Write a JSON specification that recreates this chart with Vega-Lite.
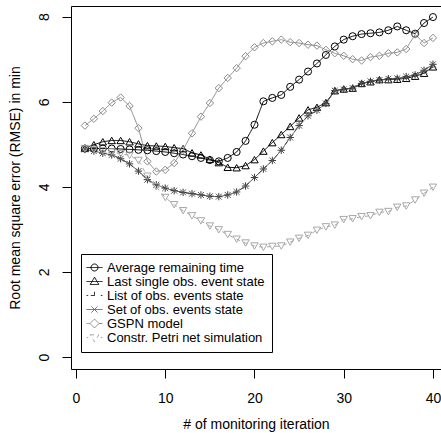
{
  "$schema": "https://vega.github.io/schema/vega-lite/v6.json",
  "width": 370,
  "height": 363,
  "autosize": {"type": "none"},
  "padding": {"left": 71, "top": 6, "right": 0, "bottom": 64},
  "background": "white",
  "config": {
    "view": {"stroke": null},
    "font": "Liberation Sans",
    "axis": {
      "grid": false,
      "domainColor": "black",
      "tickColor": "black",
      "labelColor": "black",
      "titleColor": "black",
      "labelFont": "Liberation Sans",
      "titleFont": "Liberation Sans",
      "labelFontSize": 14,
      "titleFontSize": 14,
      "titleFontWeight": "normal",
      "tickSize": 9,
      "domainWidth": 1,
      "tickWidth": 1
    },
    "legend": {
      "title": null,
      "orient": "none",
      "legendX": 10,
      "legendY": 248,
      "padding": 7,
      "symbolSize": 144,
      "symbolStrokeWidth": 1,
      "symbolOpacity": 1,
      "labelOffset": 6,
      "rowPadding": -0.4,
      "labelFontSize": 13,
      "labelLimit": 0,
      "labelFont": "Liberation Sans",
      "labelColor": "black",
      "strokeColor": "black",
      "fillColor": "white"
    }
  },
  "data": {
    "values": [
      {"iteration": 1, "method": "Average remaining time", "rmse": 4.9},
      {"iteration": 2, "method": "Average remaining time", "rmse": 4.9},
      {"iteration": 3, "method": "Average remaining time", "rmse": 4.9},
      {"iteration": 4, "method": "Average remaining time", "rmse": 4.9},
      {"iteration": 5, "method": "Average remaining time", "rmse": 4.89},
      {"iteration": 6, "method": "Average remaining time", "rmse": 4.88},
      {"iteration": 7, "method": "Average remaining time", "rmse": 4.87},
      {"iteration": 8, "method": "Average remaining time", "rmse": 4.86},
      {"iteration": 9, "method": "Average remaining time", "rmse": 4.84},
      {"iteration": 10, "method": "Average remaining time", "rmse": 4.82},
      {"iteration": 11, "method": "Average remaining time", "rmse": 4.79},
      {"iteration": 12, "method": "Average remaining time", "rmse": 4.76},
      {"iteration": 13, "method": "Average remaining time", "rmse": 4.72},
      {"iteration": 14, "method": "Average remaining time", "rmse": 4.68},
      {"iteration": 15, "method": "Average remaining time", "rmse": 4.63},
      {"iteration": 16, "method": "Average remaining time", "rmse": 4.6},
      {"iteration": 17, "method": "Average remaining time", "rmse": 4.68},
      {"iteration": 18, "method": "Average remaining time", "rmse": 4.82},
      {"iteration": 19, "method": "Average remaining time", "rmse": 5.08},
      {"iteration": 20, "method": "Average remaining time", "rmse": 5.46},
      {"iteration": 21, "method": "Average remaining time", "rmse": 6.01},
      {"iteration": 22, "method": "Average remaining time", "rmse": 6.09},
      {"iteration": 23, "method": "Average remaining time", "rmse": 6.16},
      {"iteration": 24, "method": "Average remaining time", "rmse": 6.35},
      {"iteration": 25, "method": "Average remaining time", "rmse": 6.52},
      {"iteration": 26, "method": "Average remaining time", "rmse": 6.71},
      {"iteration": 27, "method": "Average remaining time", "rmse": 6.9},
      {"iteration": 28, "method": "Average remaining time", "rmse": 7.1},
      {"iteration": 29, "method": "Average remaining time", "rmse": 7.3},
      {"iteration": 30, "method": "Average remaining time", "rmse": 7.46},
      {"iteration": 31, "method": "Average remaining time", "rmse": 7.54},
      {"iteration": 32, "method": "Average remaining time", "rmse": 7.59},
      {"iteration": 33, "method": "Average remaining time", "rmse": 7.61},
      {"iteration": 34, "method": "Average remaining time", "rmse": 7.63},
      {"iteration": 35, "method": "Average remaining time", "rmse": 7.68},
      {"iteration": 36, "method": "Average remaining time", "rmse": 7.77},
      {"iteration": 37, "method": "Average remaining time", "rmse": 7.68},
      {"iteration": 38, "method": "Average remaining time", "rmse": 7.6},
      {"iteration": 39, "method": "Average remaining time", "rmse": 7.85},
      {"iteration": 40, "method": "Average remaining time", "rmse": 7.99},
      {"iteration": 1, "method": "Last single obs. event state", "rmse": 4.91},
      {"iteration": 2, "method": "Last single obs. event state", "rmse": 4.99},
      {"iteration": 3, "method": "Last single obs. event state", "rmse": 5.06},
      {"iteration": 4, "method": "Last single obs. event state", "rmse": 5.09},
      {"iteration": 5, "method": "Last single obs. event state", "rmse": 5.09},
      {"iteration": 6, "method": "Last single obs. event state", "rmse": 5.06},
      {"iteration": 7, "method": "Last single obs. event state", "rmse": 5.01},
      {"iteration": 8, "method": "Last single obs. event state", "rmse": 4.97},
      {"iteration": 9, "method": "Last single obs. event state", "rmse": 4.96},
      {"iteration": 10, "method": "Last single obs. event state", "rmse": 4.95},
      {"iteration": 11, "method": "Last single obs. event state", "rmse": 4.92},
      {"iteration": 12, "method": "Last single obs. event state", "rmse": 4.9},
      {"iteration": 13, "method": "Last single obs. event state", "rmse": 4.8},
      {"iteration": 14, "method": "Last single obs. event state", "rmse": 4.75},
      {"iteration": 15, "method": "Last single obs. event state", "rmse": 4.65},
      {"iteration": 16, "method": "Last single obs. event state", "rmse": 4.57},
      {"iteration": 17, "method": "Last single obs. event state", "rmse": 4.46},
      {"iteration": 18, "method": "Last single obs. event state", "rmse": 4.45},
      {"iteration": 19, "method": "Last single obs. event state", "rmse": 4.5},
      {"iteration": 20, "method": "Last single obs. event state", "rmse": 4.64},
      {"iteration": 21, "method": "Last single obs. event state", "rmse": 4.84},
      {"iteration": 22, "method": "Last single obs. event state", "rmse": 5.04},
      {"iteration": 23, "method": "Last single obs. event state", "rmse": 5.23},
      {"iteration": 24, "method": "Last single obs. event state", "rmse": 5.42},
      {"iteration": 25, "method": "Last single obs. event state", "rmse": 5.62},
      {"iteration": 26, "method": "Last single obs. event state", "rmse": 5.81},
      {"iteration": 27, "method": "Last single obs. event state", "rmse": 5.87},
      {"iteration": 28, "method": "Last single obs. event state", "rmse": 5.98},
      {"iteration": 29, "method": "Last single obs. event state", "rmse": 6.26},
      {"iteration": 30, "method": "Last single obs. event state", "rmse": 6.3},
      {"iteration": 31, "method": "Last single obs. event state", "rmse": 6.32},
      {"iteration": 32, "method": "Last single obs. event state", "rmse": 6.43},
      {"iteration": 33, "method": "Last single obs. event state", "rmse": 6.47},
      {"iteration": 34, "method": "Last single obs. event state", "rmse": 6.52},
      {"iteration": 35, "method": "Last single obs. event state", "rmse": 6.52},
      {"iteration": 36, "method": "Last single obs. event state", "rmse": 6.53},
      {"iteration": 37, "method": "Last single obs. event state", "rmse": 6.55},
      {"iteration": 38, "method": "Last single obs. event state", "rmse": 6.6},
      {"iteration": 39, "method": "Last single obs. event state", "rmse": 6.67},
      {"iteration": 40, "method": "Last single obs. event state", "rmse": 6.82},
      {"iteration": 1, "method": "List of obs. events state", "rmse": 4.88},
      {"iteration": 2, "method": "List of obs. events state", "rmse": 4.84},
      {"iteration": 3, "method": "List of obs. events state", "rmse": 4.79},
      {"iteration": 4, "method": "List of obs. events state", "rmse": 4.75},
      {"iteration": 5, "method": "List of obs. events state", "rmse": 4.66},
      {"iteration": 6, "method": "List of obs. events state", "rmse": 4.54},
      {"iteration": 7, "method": "List of obs. events state", "rmse": 4.37},
      {"iteration": 8, "method": "List of obs. events state", "rmse": 4.17},
      {"iteration": 9, "method": "List of obs. events state", "rmse": 4.05},
      {"iteration": 10, "method": "List of obs. events state", "rmse": 3.97},
      {"iteration": 11, "method": "List of obs. events state", "rmse": 3.91},
      {"iteration": 12, "method": "List of obs. events state", "rmse": 3.87},
      {"iteration": 13, "method": "List of obs. events state", "rmse": 3.84},
      {"iteration": 14, "method": "List of obs. events state", "rmse": 3.81},
      {"iteration": 15, "method": "List of obs. events state", "rmse": 3.78},
      {"iteration": 16, "method": "List of obs. events state", "rmse": 3.77},
      {"iteration": 17, "method": "List of obs. events state", "rmse": 3.81},
      {"iteration": 18, "method": "List of obs. events state", "rmse": 3.88},
      {"iteration": 19, "method": "List of obs. events state", "rmse": 4.02},
      {"iteration": 20, "method": "List of obs. events state", "rmse": 4.22},
      {"iteration": 21, "method": "List of obs. events state", "rmse": 4.42},
      {"iteration": 22, "method": "List of obs. events state", "rmse": 4.62},
      {"iteration": 23, "method": "List of obs. events state", "rmse": 4.86},
      {"iteration": 24, "method": "List of obs. events state", "rmse": 5.16},
      {"iteration": 25, "method": "List of obs. events state", "rmse": 5.44},
      {"iteration": 26, "method": "List of obs. events state", "rmse": 5.67},
      {"iteration": 27, "method": "List of obs. events state", "rmse": 5.8},
      {"iteration": 28, "method": "List of obs. events state", "rmse": 5.96},
      {"iteration": 29, "method": "List of obs. events state", "rmse": 6.26},
      {"iteration": 30, "method": "List of obs. events state", "rmse": 6.29},
      {"iteration": 31, "method": "List of obs. events state", "rmse": 6.32},
      {"iteration": 32, "method": "List of obs. events state", "rmse": 6.43},
      {"iteration": 33, "method": "List of obs. events state", "rmse": 6.48},
      {"iteration": 34, "method": "List of obs. events state", "rmse": 6.51},
      {"iteration": 35, "method": "List of obs. events state", "rmse": 6.54},
      {"iteration": 36, "method": "List of obs. events state", "rmse": 6.55},
      {"iteration": 37, "method": "List of obs. events state", "rmse": 6.59},
      {"iteration": 38, "method": "List of obs. events state", "rmse": 6.63},
      {"iteration": 39, "method": "List of obs. events state", "rmse": 6.74},
      {"iteration": 40, "method": "List of obs. events state", "rmse": 6.88},
      {"iteration": 1, "method": "Set of obs. events state", "rmse": 4.88},
      {"iteration": 2, "method": "Set of obs. events state", "rmse": 4.84},
      {"iteration": 3, "method": "Set of obs. events state", "rmse": 4.79},
      {"iteration": 4, "method": "Set of obs. events state", "rmse": 4.75},
      {"iteration": 5, "method": "Set of obs. events state", "rmse": 4.66},
      {"iteration": 6, "method": "Set of obs. events state", "rmse": 4.54},
      {"iteration": 7, "method": "Set of obs. events state", "rmse": 4.37},
      {"iteration": 8, "method": "Set of obs. events state", "rmse": 4.17},
      {"iteration": 9, "method": "Set of obs. events state", "rmse": 4.05},
      {"iteration": 10, "method": "Set of obs. events state", "rmse": 3.97},
      {"iteration": 11, "method": "Set of obs. events state", "rmse": 3.91},
      {"iteration": 12, "method": "Set of obs. events state", "rmse": 3.87},
      {"iteration": 13, "method": "Set of obs. events state", "rmse": 3.84},
      {"iteration": 14, "method": "Set of obs. events state", "rmse": 3.81},
      {"iteration": 15, "method": "Set of obs. events state", "rmse": 3.78},
      {"iteration": 16, "method": "Set of obs. events state", "rmse": 3.77},
      {"iteration": 17, "method": "Set of obs. events state", "rmse": 3.81},
      {"iteration": 18, "method": "Set of obs. events state", "rmse": 3.88},
      {"iteration": 19, "method": "Set of obs. events state", "rmse": 4.02},
      {"iteration": 20, "method": "Set of obs. events state", "rmse": 4.22},
      {"iteration": 21, "method": "Set of obs. events state", "rmse": 4.42},
      {"iteration": 22, "method": "Set of obs. events state", "rmse": 4.62},
      {"iteration": 23, "method": "Set of obs. events state", "rmse": 4.86},
      {"iteration": 24, "method": "Set of obs. events state", "rmse": 5.16},
      {"iteration": 25, "method": "Set of obs. events state", "rmse": 5.44},
      {"iteration": 26, "method": "Set of obs. events state", "rmse": 5.67},
      {"iteration": 27, "method": "Set of obs. events state", "rmse": 5.8},
      {"iteration": 28, "method": "Set of obs. events state", "rmse": 5.96},
      {"iteration": 29, "method": "Set of obs. events state", "rmse": 6.26},
      {"iteration": 30, "method": "Set of obs. events state", "rmse": 6.29},
      {"iteration": 31, "method": "Set of obs. events state", "rmse": 6.32},
      {"iteration": 32, "method": "Set of obs. events state", "rmse": 6.43},
      {"iteration": 33, "method": "Set of obs. events state", "rmse": 6.48},
      {"iteration": 34, "method": "Set of obs. events state", "rmse": 6.51},
      {"iteration": 35, "method": "Set of obs. events state", "rmse": 6.54},
      {"iteration": 36, "method": "Set of obs. events state", "rmse": 6.55},
      {"iteration": 37, "method": "Set of obs. events state", "rmse": 6.59},
      {"iteration": 38, "method": "Set of obs. events state", "rmse": 6.63},
      {"iteration": 39, "method": "Set of obs. events state", "rmse": 6.74},
      {"iteration": 40, "method": "Set of obs. events state", "rmse": 6.88},
      {"iteration": 1, "method": "GSPN model", "rmse": 5.44},
      {"iteration": 2, "method": "GSPN model", "rmse": 5.6},
      {"iteration": 3, "method": "GSPN model", "rmse": 5.78},
      {"iteration": 4, "method": "GSPN model", "rmse": 5.98},
      {"iteration": 5, "method": "GSPN model", "rmse": 6.1},
      {"iteration": 6, "method": "GSPN model", "rmse": 5.9},
      {"iteration": 7, "method": "GSPN model", "rmse": 5.38},
      {"iteration": 8, "method": "GSPN model", "rmse": 4.6},
      {"iteration": 9, "method": "GSPN model", "rmse": 4.36},
      {"iteration": 10, "method": "GSPN model", "rmse": 4.4},
      {"iteration": 11, "method": "GSPN model", "rmse": 4.56},
      {"iteration": 12, "method": "GSPN model", "rmse": 4.87},
      {"iteration": 13, "method": "GSPN model", "rmse": 5.26},
      {"iteration": 14, "method": "GSPN model", "rmse": 5.65},
      {"iteration": 15, "method": "GSPN model", "rmse": 5.97},
      {"iteration": 16, "method": "GSPN model", "rmse": 6.32},
      {"iteration": 17, "method": "GSPN model", "rmse": 6.56},
      {"iteration": 18, "method": "GSPN model", "rmse": 6.79},
      {"iteration": 19, "method": "GSPN model", "rmse": 7.07},
      {"iteration": 20, "method": "GSPN model", "rmse": 7.28},
      {"iteration": 21, "method": "GSPN model", "rmse": 7.38},
      {"iteration": 22, "method": "GSPN model", "rmse": 7.42},
      {"iteration": 23, "method": "GSPN model", "rmse": 7.46},
      {"iteration": 24, "method": "GSPN model", "rmse": 7.4},
      {"iteration": 25, "method": "GSPN model", "rmse": 7.38},
      {"iteration": 26, "method": "GSPN model", "rmse": 7.34},
      {"iteration": 27, "method": "GSPN model", "rmse": 7.32},
      {"iteration": 28, "method": "GSPN model", "rmse": 7.22},
      {"iteration": 29, "method": "GSPN model", "rmse": 7.14},
      {"iteration": 30, "method": "GSPN model", "rmse": 7.08},
      {"iteration": 31, "method": "GSPN model", "rmse": 7.0},
      {"iteration": 32, "method": "GSPN model", "rmse": 6.97},
      {"iteration": 33, "method": "GSPN model", "rmse": 7.05},
      {"iteration": 34, "method": "GSPN model", "rmse": 7.08},
      {"iteration": 35, "method": "GSPN model", "rmse": 7.14},
      {"iteration": 36, "method": "GSPN model", "rmse": 7.16},
      {"iteration": 37, "method": "GSPN model", "rmse": 7.24},
      {"iteration": 38, "method": "GSPN model", "rmse": 7.58},
      {"iteration": 39, "method": "GSPN model", "rmse": 7.38},
      {"iteration": 40, "method": "GSPN model", "rmse": 7.5},
      {"iteration": 1, "method": "Constr. Petri net simulation", "rmse": 4.9},
      {"iteration": 2, "method": "Constr. Petri net simulation", "rmse": 4.88},
      {"iteration": 3, "method": "Constr. Petri net simulation", "rmse": 4.85},
      {"iteration": 4, "method": "Constr. Petri net simulation", "rmse": 4.82},
      {"iteration": 5, "method": "Constr. Petri net simulation", "rmse": 4.78},
      {"iteration": 6, "method": "Constr. Petri net simulation", "rmse": 4.74},
      {"iteration": 7, "method": "Constr. Petri net simulation", "rmse": 4.62},
      {"iteration": 8, "method": "Constr. Petri net simulation", "rmse": 4.25},
      {"iteration": 9, "method": "Constr. Petri net simulation", "rmse": 4.0},
      {"iteration": 10, "method": "Constr. Petri net simulation", "rmse": 3.75},
      {"iteration": 11, "method": "Constr. Petri net simulation", "rmse": 3.58},
      {"iteration": 12, "method": "Constr. Petri net simulation", "rmse": 3.44},
      {"iteration": 13, "method": "Constr. Petri net simulation", "rmse": 3.32},
      {"iteration": 14, "method": "Constr. Petri net simulation", "rmse": 3.2},
      {"iteration": 15, "method": "Constr. Petri net simulation", "rmse": 3.08},
      {"iteration": 16, "method": "Constr. Petri net simulation", "rmse": 2.99},
      {"iteration": 17, "method": "Constr. Petri net simulation", "rmse": 2.88},
      {"iteration": 18, "method": "Constr. Petri net simulation", "rmse": 2.77},
      {"iteration": 19, "method": "Constr. Petri net simulation", "rmse": 2.68},
      {"iteration": 20, "method": "Constr. Petri net simulation", "rmse": 2.61},
      {"iteration": 21, "method": "Constr. Petri net simulation", "rmse": 2.58},
      {"iteration": 22, "method": "Constr. Petri net simulation", "rmse": 2.6},
      {"iteration": 23, "method": "Constr. Petri net simulation", "rmse": 2.61},
      {"iteration": 24, "method": "Constr. Petri net simulation", "rmse": 2.7},
      {"iteration": 25, "method": "Constr. Petri net simulation", "rmse": 2.79},
      {"iteration": 26, "method": "Constr. Petri net simulation", "rmse": 2.86},
      {"iteration": 27, "method": "Constr. Petri net simulation", "rmse": 2.98},
      {"iteration": 28, "method": "Constr. Petri net simulation", "rmse": 3.06},
      {"iteration": 29, "method": "Constr. Petri net simulation", "rmse": 3.1},
      {"iteration": 30, "method": "Constr. Petri net simulation", "rmse": 3.23},
      {"iteration": 31, "method": "Constr. Petri net simulation", "rmse": 3.25},
      {"iteration": 32, "method": "Constr. Petri net simulation", "rmse": 3.3},
      {"iteration": 33, "method": "Constr. Petri net simulation", "rmse": 3.32},
      {"iteration": 34, "method": "Constr. Petri net simulation", "rmse": 3.4},
      {"iteration": 35, "method": "Constr. Petri net simulation", "rmse": 3.42},
      {"iteration": 36, "method": "Constr. Petri net simulation", "rmse": 3.52},
      {"iteration": 37, "method": "Constr. Petri net simulation", "rmse": 3.55},
      {"iteration": 38, "method": "Constr. Petri net simulation", "rmse": 3.69},
      {"iteration": 39, "method": "Constr. Petri net simulation", "rmse": 3.85},
      {"iteration": 40, "method": "Constr. Petri net simulation", "rmse": 3.99}
    ]
  },
  "layer": [
    {
      "mark": {"type": "line", "strokeWidth": 1},
      "encoding": {
        "x": {
          "field": "iteration", "type": "quantitative",
          "scale": {"domain": [-0.56, 40.9], "nice": false, "zero": false},
          "axis": {"orient": "bottom", "values": [0, 10, 20, 30, 40], "title": "# of monitoring iteration", "labelPadding": 13, "titlePadding": 12, "labelFlush": false}
        },
        "y": {
          "field": "rmse", "type": "quantitative",
          "scale": {"domain": [-0.28, 8.25], "nice": false, "zero": false},
          "axis": {"values": [0, 2, 4, 6, 8], "title": "Root mean square error (RMSE) in min", "labelAngle": 270, "labelAlign": "center", "labelBaseline": "bottom", "labelPadding": 11, "titlePadding": 15}
        },
        "color": {
          "field": "method", "type": "nominal",
          "scale": {
            "domain": ["Average remaining time", "Last single obs. event state", "List of obs. events state", "Set of obs. events state", "GSPN model", "Constr. Petri net simulation"],
            "range": ["#000000", "#000000", "#3c3c3c", "#555555", "#8a8a8a", "#a8a8a8"]
          },
          "legend": {"title": null, "orient": "none", "legendX": 10, "legendY": 248}
        },
        "strokeDash": {
          "field": "method", "type": "nominal", "legend": null,
          "scale": {
            "domain": ["Average remaining time", "Last single obs. event state", "List of obs. events state", "Set of obs. events state", "GSPN model", "Constr. Petri net simulation"],
            "range": [[1, 0], [1, 0], [4, 4], [1, 0], [1, 0], [4, 4]]
          }
        }
      }
    },
    {
      "transform": [{"filter": "datum.method === 'Average remaining time'"}],
      "mark": {"type": "point", "shape": "circle", "filled": false, "size": 50, "strokeWidth": 1, "opacity": 1},
      "encoding": {
        "x": {"field": "iteration", "type": "quantitative", "axis": null},
        "y": {"field": "rmse", "type": "quantitative"},
        "color": {"field": "method", "type": "nominal"}
      }
    },
    {
      "transform": [{"filter": "datum.method === 'Last single obs. event state'"}],
      "mark": {"type": "point", "shape": "triangle-up", "filled": false, "size": 55, "strokeWidth": 1, "opacity": 1},
      "encoding": {
        "x": {"field": "iteration", "type": "quantitative", "axis": null},
        "y": {"field": "rmse", "type": "quantitative"},
        "color": {"field": "method", "type": "nominal"}
      }
    },
    {
      "transform": [{"filter": "datum.method === 'List of obs. events state'"}],
      "mark": {"type": "point", "shape": "M-1,0L1,0M0,-1L0,1", "filled": false, "size": 55, "strokeWidth": 1, "opacity": 1},
      "encoding": {
        "x": {"field": "iteration", "type": "quantitative", "axis": null},
        "y": {"field": "rmse", "type": "quantitative"},
        "color": {"field": "method", "type": "nominal"}
      }
    },
    {
      "transform": [{"filter": "datum.method === 'Set of obs. events state'"}],
      "mark": {"type": "point", "shape": "M-0.8,-0.8L0.8,0.8M-0.8,0.8L0.8,-0.8", "filled": false, "size": 55, "strokeWidth": 1, "opacity": 1},
      "encoding": {
        "x": {"field": "iteration", "type": "quantitative", "axis": null},
        "y": {"field": "rmse", "type": "quantitative"},
        "color": {"field": "method", "type": "nominal"}
      }
    },
    {
      "transform": [{"filter": "datum.method === 'GSPN model'"}],
      "mark": {"type": "point", "shape": "diamond", "filled": false, "size": 55, "strokeWidth": 1, "opacity": 1},
      "encoding": {
        "x": {"field": "iteration", "type": "quantitative", "axis": null},
        "y": {"field": "rmse", "type": "quantitative"},
        "color": {"field": "method", "type": "nominal"}
      }
    },
    {
      "transform": [{"filter": "datum.method === 'Constr. Petri net simulation'"}],
      "mark": {"type": "point", "shape": "triangle-down", "filled": false, "size": 55, "strokeWidth": 1, "opacity": 1},
      "encoding": {
        "x": {"field": "iteration", "type": "quantitative", "axis": null},
        "y": {"field": "rmse", "type": "quantitative"},
        "color": {"field": "method", "type": "nominal"}
      }
    },
    {
      "mark": {"type": "point", "filled": false, "size": 144, "strokeWidth": 1, "opacity": 0},
      "encoding": {
        "x": {
          "field": "iteration", "type": "quantitative",
          "axis": {"orient": "top", "labels": false, "ticks": false, "title": null, "domainColor": "black"}
        },
        "y": {"field": "rmse", "type": "quantitative"},
        "color": {"field": "method", "type": "nominal", "legend": {"title": null, "orient": "none", "legendX": 10, "legendY": 248}},
        "shape": {
          "field": "method", "type": "nominal",
          "legend": {"title": null, "orient": "none", "legendX": 10, "legendY": 248},
          "scale": {
            "domain": ["Average remaining time", "Last single obs. event state", "List of obs. events state", "Set of obs. events state", "GSPN model", "Constr. Petri net simulation"],
            "range": [
              "M-1.33,0L1.33,0M-0.58,0A0.58,0.58 0 1,0 0.58,0A0.58,0.58 0 1,0 -0.58,0",
              "M-1.33,0L1.33,0M0,-0.72L0.72,0.5L-0.72,0.5Z",
              "M-1.33,0L-1.05,0M-0.62,0L0.62,0M1.05,0L1.33,0M0,-0.62L0,0.62",
              "M-1.33,0L1.33,0M-0.5,-0.5L0.5,0.5M-0.5,0.5L0.5,-0.5",
              "M-1.33,0L-0.75,0M0.75,0L1.33,0M0,-0.75L0.75,0L0,0.75L-0.75,0Z",
              "M-1.33,0L-1.05,0M1.05,0L1.33,0M-0.72,-0.45L0.72,-0.45L0,0.72Z"
            ]
          }
        }
      }
    }
  ],
  "resolve": {"axis": {"x": "independent"}}
}
